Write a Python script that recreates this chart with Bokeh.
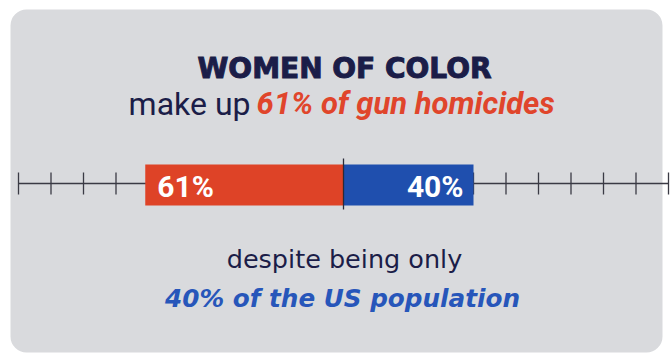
from bokeh.plotting import figure
from bokeh.models import Range1d, BoxAnnotation
from bokeh.core.properties import value
from bokeh.embed import file_html
from bokeh.resources import INLINE

# ---- data ----
categories = ["gun homicides", "US population"]
shares = [61, 40]            # percent
bar_labels = ["61%", "40%"]
axis_ticks = [-100, -90, -80, -70, -60, -50, -40, -30, -20, -10, 0,
              10, 20, 30, 40, 50, 60, 70, 80, 90, 100]

title_text = "WOMEN OF COLOR"
line1_a = "make up"
line1_b = "61% of gun homicides"
line2_a = "despite being only"
line2_b = "40% of the US population"

# ---- style ----
W, H = 671, 354
CX = 343.0          # pixel of 0
PX = 3.25           # pixels per percent
NAVY = "#1b1d48"
RED = "#de4327"
BLUE = "#1f4fae"
TXT_RED = "#e0452b"
TXT_BLUE = "#2756ba"
GREY = "#d9dadd"
FONT = "Roboto"
WIDE = "DejaVu Sans"


def xp(px):
    return (px - CX) / PX


p = figure(width=W, height=H, output_backend="svg", toolbar_location=None,
           x_range=Range1d(xp(0), xp(W)), y_range=Range1d(H, 0),
           min_border=0, outline_line_color=None)
p.axis.visible = False
p.grid.visible = False
p.background_fill_color = "white"
p.border_fill_color = "white"

p.add_layout(BoxAnnotation(left=xp(10), right=xp(662), top=9, bottom=352,
                           fill_color=GREY, fill_alpha=1, line_color=None,
                           border_radius=16, level="underlay"))

# axis line + ticks
AY = 183
p.segment(x0=[axis_ticks[0]], x1=[axis_ticks[-1]], y0=[AY], y1=[AY],
          line_color="#3a3a44", line_width=1.3)
p.segment(x0=axis_ticks, x1=axis_ticks, y0=[AY - 11] * len(axis_ticks),
          y1=[AY + 11] * len(axis_ticks), line_color="#3a3a44", line_width=1.3)

# bars: first share extends left, second right
p.quad(left=[-shares[0]], right=[0], top=[164], bottom=[205],
       fill_color=RED, line_color=None)
p.quad(left=[0], right=[shares[1]], top=[164], bottom=[205],
       fill_color=BLUE, line_color=None)
p.segment(x0=[0], x1=[0], y0=[158], y1=[209], line_color="#2a2a38", line_width=1.3)

p.text(x=[-shares[0] + xp(157) - xp(145)], y=[186], text=[bar_labels[0]],
       text_color="white", text_font=value(FONT), text_font_style="bold",
       text_font_size="30px", text_align="left", text_baseline="alphabetic")
p.text(x=[shares[1] - (473 - 463) / PX], y=[186], text=[bar_labels[1]],
       text_color="white", text_font=value(FONT), text_font_style="bold",
       text_font_size="30px", text_align="right", text_baseline="alphabetic")

# headings
p.text(x=[xp(344)], y=[68], text=[title_text], text_color=NAVY,
       text_outline_color=NAVY,
       text_font=value(WIDE), text_font_style="bold", text_font_size="28px",
       text_align="center", text_baseline="alphabetic")
p.text(x=[xp(250)], y=[103], text=[line1_a], text_color=NAVY,
       text_font=value(FONT), text_font_style="normal", text_font_size="32px",
       text_align="right", text_baseline="alphabetic")
p.text(x=[xp(256)], y=[103], text=[line1_b], text_color=TXT_RED,
       text_font=value(FONT), text_font_style="bold italic", text_font_size="31px",
       text_align="left", text_baseline="alphabetic")

p.text(x=[xp(344)], y=[258], text=[line2_a], text_color=NAVY,
       text_font=value(WIDE), text_font_style="normal", text_font_size="25.5px",
       text_align="center", text_baseline="alphabetic")
p.text(x=[xp(342)], y=[298], text=[line2_b], text_color=TXT_BLUE,
       text_font=value(WIDE), text_font_style="bold italic", text_font_size="24.7px",
       text_align="center", text_baseline="alphabetic")

open("out.html", "w").write(file_html(p, INLINE))
